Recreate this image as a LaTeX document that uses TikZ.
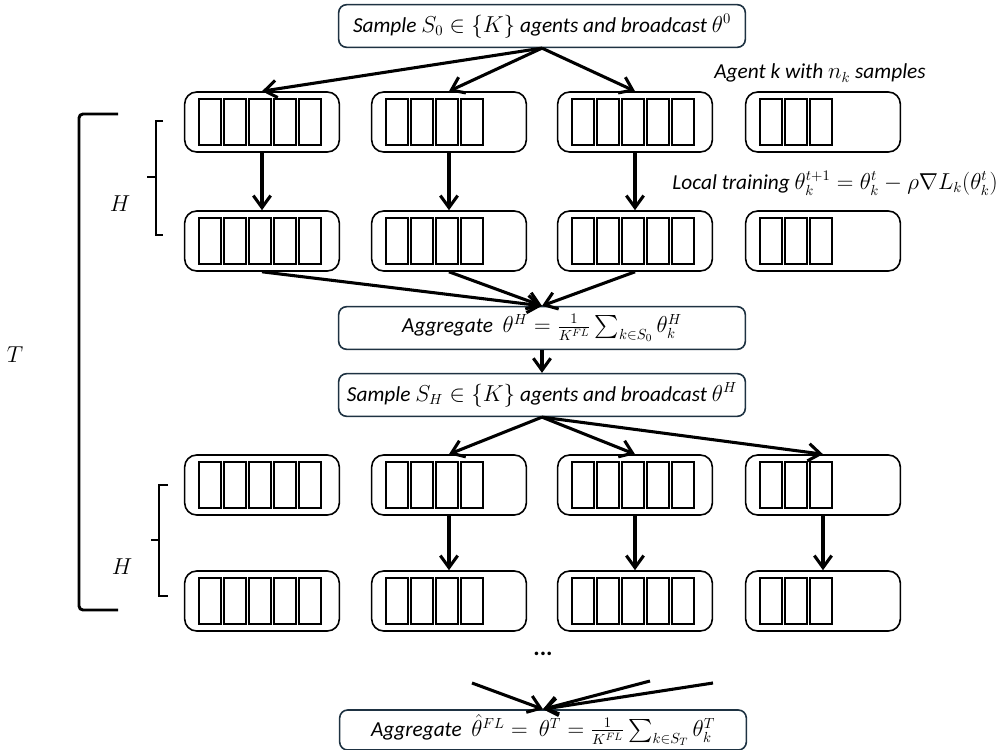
\documentclass[tikz,border=0pt]{standalone}
\usepackage{amsmath}
\usepackage{fontspec}
\setmainfont{Carlito}
\usetikzlibrary{arrows.meta,calc,positioning}
\definecolor{EdgeNavy}{RGB}{30,50,66}

\tikzset{
  agentbox/.style={draw, line width=1.2pt, rounded corners=9pt, minimum width=116pt, minimum height=45pt, inner sep=0pt},
  stepbox/.style={draw=EdgeNavy, line width=1.2pt, rounded corners=6pt, minimum width=305pt, minimum height=32pt, inner sep=0pt, font=\fontsize{16}{18}\selectfont\itshape},
  note/.style={font=\fontsize{16}{18}\selectfont\itshape, inner sep=0pt},
  flow/.style={-{Straight Barb[length=9pt,width=13pt]}, line width=2.3pt},
  cell/.style={draw, line width=1.1pt},
  bracket/.style={line width=2.2pt},
}

% cells inside one agent box: \agentcells{node}{count}
\newcommand{\agentcells}[2]{%
  \foreach \c in {1,...,#2}
    \draw[cell] ($(#1.west)+({15+(\c-1)*25},-23)$) rectangle ++(22,46);
}

\begin{document}
\begin{tikzpicture}[x=0.75pt,y=-0.75pt]
  \useasboundingbox (0,0) rectangle (1001,750);

  % step boxes
  \node[stepbox] (top) at (542,26) {Sample $S_0 \in \{K\}$ agents and broadcast $\theta^0$};
  \node[stepbox] (agg) at (542,328) {Aggregate\ \ $\theta^H = \tfrac{1}{K^{FL}}\textstyle\sum_{k\in S_0}\theta_k^H$};
  \node[stepbox] (bcast) at (542,395) {Sample $S_H \in \{K\}$ agents and broadcast $\theta^H$};
  \node[stepbox, minimum height=30pt] (fin) at (543,730) {Aggregate\ \ $\hat{\theta}^{FL} =\ \theta^T = \tfrac{1}{K^{FL}}\textstyle\sum_{k\in S_T}\theta_k^T$};

  % agents: rows and columns
  \foreach \row/\y in {1/122,2/241,3/485,4/601}
    \foreach \col/\x/\n in {1/262/5,2/449/4,3/635/5,4/823/3} {
      \node[agentbox] (a-\row-\col) at (\x,\y) {};
      \agentcells{a-\row-\col}{\n}
    }

  % notes
  \node[note] (agentnote) at (820,73) {Agent k with $n_k$ samples};
  \node[note, anchor=east] (localnote) at (998,183) {Local training $\theta_k^{t+1} = \theta_k^t - \rho\nabla L_k(\theta_k^t)$};
  \node[font=\fontsize{18}{20}\selectfont\bfseries] (dots) at (543,654) {...};

  % connectors
  \foreach \col in {1,2,3} {
    \draw[flow] (top.south) -- (a-1-\col.north);
    \draw[flow] (a-1-\col.south) -- (a-2-\col.north);
    \draw[flow] (a-2-\col.south) -- (agg.north);
  }
  \draw[flow] (agg) -- (bcast);
  \foreach \col in {2,3,4} {
    \draw[flow] (bcast.south) -- (a-3-\col.north);
    \draw[flow] (a-3-\col.south) -- (a-4-\col.north);
  }
  \coordinate (end1) at (472,683);
  \coordinate (end2) at (650,681);
  \coordinate (end3) at (713,683);
  \foreach \e in {1,2,3}
    \draw[flow] (end\e) -- (fin.north);

  % rounds and local steps
  \draw[bracket, rounded corners=3pt] (118,114) -- (79,114) -- (79,610) -- (118,610);
  \node[font=\fontsize{16}{18}\selectfont] (lblT) at (15,355) {$T$};
  \draw[bracket] (163,121) -- (156,121) -- (156,235) -- (163,235);
  \draw[bracket] (147,177) -- (156,177);
  \node[font=\fontsize{16}{18}\selectfont] (lblH1) at (120,204) {$H$};
  \draw[bracket] (168,485) -- (159,485) -- (159,596) -- (168,596);
  \draw[bracket] (151,540) -- (159,540);
  \node[font=\fontsize{16}{18}\selectfont] (lblH2) at (122,567) {$H$};
\end{tikzpicture}
\end{document}
